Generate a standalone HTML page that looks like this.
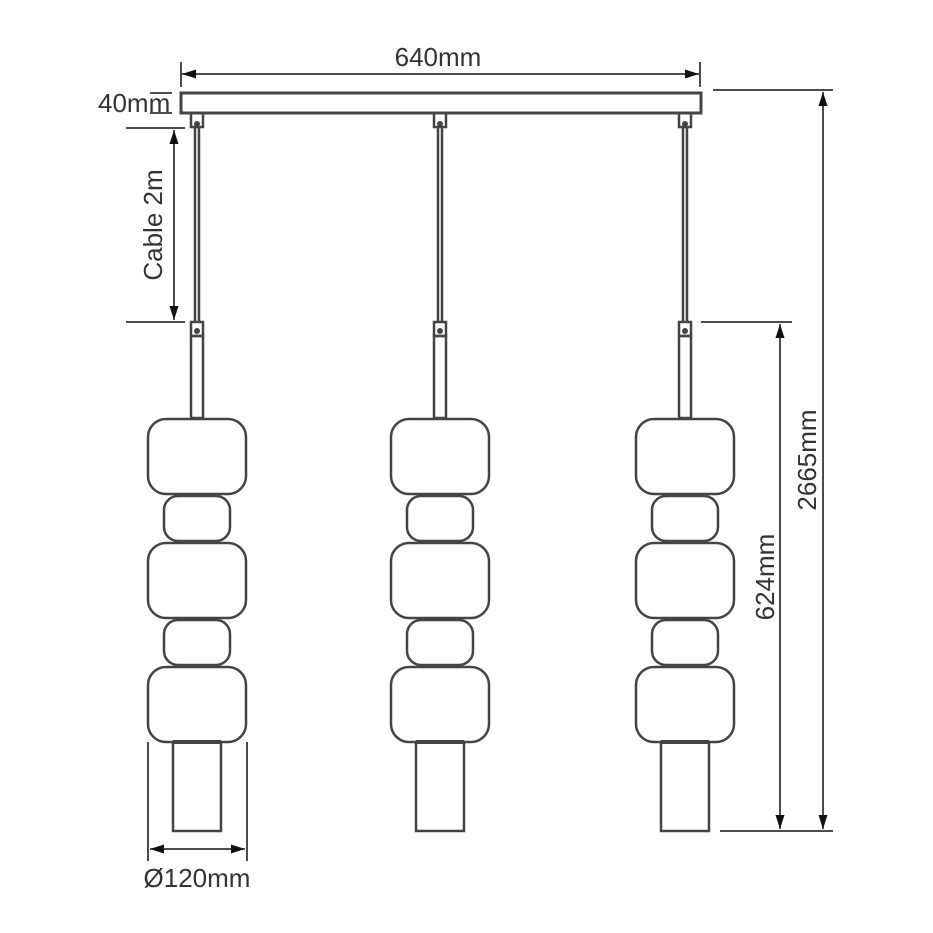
<!DOCTYPE html>
<html><head><meta charset="utf-8"><style>
html,body{margin:0;padding:0;background:#fff;}
svg{display:block;}
text{font-family:"Liberation Sans",sans-serif;fill:#333;font-size:26px;}
</style></head><body>
<svg width="933" height="933" viewBox="0 0 933 933" xmlns="http://www.w3.org/2000/svg">
<defs>
<marker id="a" viewBox="0 0 14 10" refX="14" refY="5" markerWidth="14" markerHeight="10" markerUnits="userSpaceOnUse" orient="auto-start-reverse"><path d="M0,0.5 L14,5 L0,9.5 z" fill="#111"/></marker>
<g id="p" fill="none" stroke="#444" stroke-width="2.5">
<rect x="-6" y="113" width="12" height="14" />
<line x1="-2" y1="127" x2="-2" y2="322"/><line x1="2" y1="127" x2="2" y2="322"/>
<circle cx="0" cy="124" r="3" fill="#444" stroke="none"/>
<rect x="-6" y="322" width="12" height="14"/>
<circle cx="0" cy="331" r="3" fill="#444" stroke="none"/>
<rect x="-6" y="336" width="12" height="82"/>
<rect x="-49" y="419" width="98" height="75" rx="18"/>
<rect x="-33" y="496" width="66" height="45" rx="14"/>
<rect x="-49" y="543" width="98" height="75" rx="18"/>
<rect x="-33" y="620" width="66" height="45" rx="14"/>
<rect x="-49" y="667" width="98" height="75" rx="18"/>
<rect x="-24" y="742" width="48" height="89"/>
<line x1="-10" y1="495" x2="10" y2="495" stroke-width="4"/>
<line x1="-10" y1="542" x2="10" y2="542" stroke-width="4"/>
<line x1="-10" y1="619" x2="10" y2="619" stroke-width="4"/>
<line x1="-10" y1="666" x2="10" y2="666" stroke-width="4"/>
<line x1="-24" y1="742" x2="24" y2="742" stroke-width="4"/>
</g>
</defs>
<rect x="181" y="93" width="520" height="20" fill="none" stroke="#444" stroke-width="3"/>
<use href="#p" x="197"/><use href="#p" x="440"/><use href="#p" x="685"/>
<g stroke="#111" stroke-width="1.5" fill="none">
<line x1="181" y1="62" x2="181" y2="87"/><line x1="700" y1="62" x2="700" y2="87"/>
<line x1="182" y1="74" x2="699" y2="74" marker-start="url(#a)" marker-end="url(#a)"/>
<line x1="150" y1="93" x2="172" y2="93"/><line x1="150" y1="113" x2="172" y2="113"/>
<line x1="126" y1="128" x2="185" y2="128"/><line x1="126" y1="322" x2="185" y2="322"/>
<line x1="174" y1="130" x2="174" y2="320" marker-start="url(#a)" marker-end="url(#a)"/>
<line x1="713" y1="90" x2="833" y2="90"/><line x1="720" y1="831" x2="833" y2="831"/>
<line x1="701" y1="322" x2="792" y2="322"/>
<line x1="823" y1="92" x2="823" y2="829" marker-start="url(#a)" marker-end="url(#a)"/>
<line x1="780" y1="324" x2="780" y2="829" marker-start="url(#a)" marker-end="url(#a)"/>
<line x1="148" y1="742" x2="148" y2="861"/><line x1="247" y1="742" x2="247" y2="861"/>
<line x1="150" y1="849" x2="245" y2="849" marker-start="url(#a)" marker-end="url(#a)"/>
</g>
<text x="438" y="66" text-anchor="middle">640mm</text>
<text x="98" y="112">40mm</text>
<text x="162" y="225" text-anchor="middle" transform="rotate(-90 162 225)">Cable 2m</text>
<text x="816" y="460" text-anchor="middle" transform="rotate(-90 816 460)">2665mm</text>
<text x="774" y="577" text-anchor="middle" transform="rotate(-90 774 577)">624mm</text>
<text x="197" y="887" text-anchor="middle">Ø120mm</text>
</svg>
</body></html>
